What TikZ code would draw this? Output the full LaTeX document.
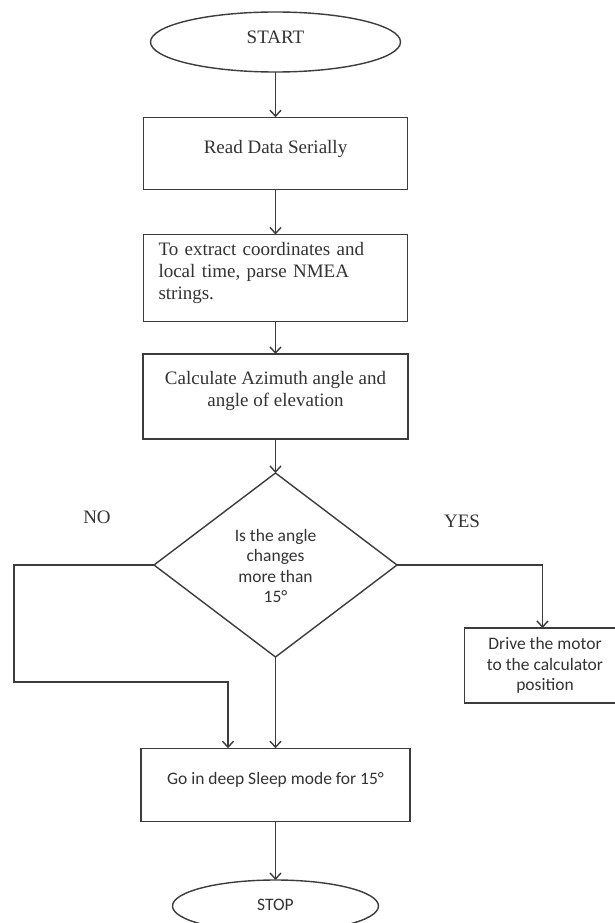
\documentclass[tikz,border=0pt]{standalone}
\usepackage{fontspec}
\setmainfont{Liberation Serif}
\newfontfamily\calfont{Carlito}
\usetikzlibrary{shapes.geometric,arrows.meta}
\definecolor{lc}{HTML}{3C3C3C}
\definecolor{tc}{HTML}{333333}
\begin{document}
\begin{tikzpicture}[x=1pt,y=-1pt,
  line/.style={draw=lc, line width=1.4pt},
  arr/.style={line, -{Straight Barb[length=6pt,width=11pt]}},
  shp/.style={draw=lc, line width=1.4pt, inner sep=0pt, outer sep=0pt},
  boxshape/.style={shp, rectangle},
  serif/.style={font=\fontsize{19}{21.7}\selectfont, text=tc, inner sep=0pt},
  sans/.style={font=\calfont\fontsize{17.5}{20.5}\selectfont, text=tc, inner sep=0pt},
]
\useasboundingbox (0,0) rectangle (614,923);
\fill[white] (0,0) rectangle (614,923);

\node[shp, ellipse, minimum width=250pt, minimum height=60pt,
  label={[serif, yshift=5pt]center:START}] (start) at (275.5,42) {};

\node[boxshape, minimum width=264pt, minimum height=72.5pt,
  label={[serif, yshift=4.5pt]center:Read Data Serially}] (read) at (275.5,153.5) {};

\node[boxshape, minimum width=264pt, minimum height=87pt,
  label={[serif, text width=240pt, align=left, xshift=3pt, yshift=5pt]center:To extract coordinates and\\local time, parse NMEA\\strings.}] (extract) at (275.5,278) {};

\node[boxshape, minimum width=265pt, minimum height=85pt,
  label={[serif, align=center, yshift=5.5pt]center:Calculate Azimuth angle and\\angle of elevation}] (calc) at (275.5,396.5) {};

\node[shp, diamond, aspect=1.32, minimum width=243pt, minimum height=184pt,
  label={[sans, align=center, yshift=-1pt]center:Is the angle\\changes\\more than\\15°}] (dec) at (275.5,565) {};

\node[boxshape, minimum width=156pt, minimum height=75pt,
  label={[sans, align=center, xshift=2.5pt]center:Drive the motor\\to the calculator\\position}] (drive) at (542.5,665.5) {};

\node[boxshape, minimum width=269pt, minimum height=73.5pt,
  label={[sans, yshift=5pt]center:Go in deep Sleep mode for 15°}] (sleep) at (275.5,785) {};

\node[shp, ellipse, minimum width=206pt, minimum height=52pt,
  label={[sans, yshift=1pt]center:STOP}] (stop) at (275.5,906) {};

\node[serif] (no) at (97,517) {NO};
\node[serif] (yes) at (462,521) {YES};

\coordinate (nl1) at (14,565);
\coordinate (nl2) at (14,682);
\coordinate (nin) at (228,748.25);

\draw[arr] (start) -- (read);
\draw[arr] (read) -- (extract);
\draw[arr] (extract) -- (calc);
\draw[arr] (calc) -- (dec);
\draw[arr] (dec.east) -| (drive.north);
\draw[arr] (dec.west) -- (nl1) -- (nl2) -| (nin);
\draw[arr] (dec.south) -- (sleep.north);
\draw[arr] (sleep) -- (stop);
\end{tikzpicture}
\end{document}
